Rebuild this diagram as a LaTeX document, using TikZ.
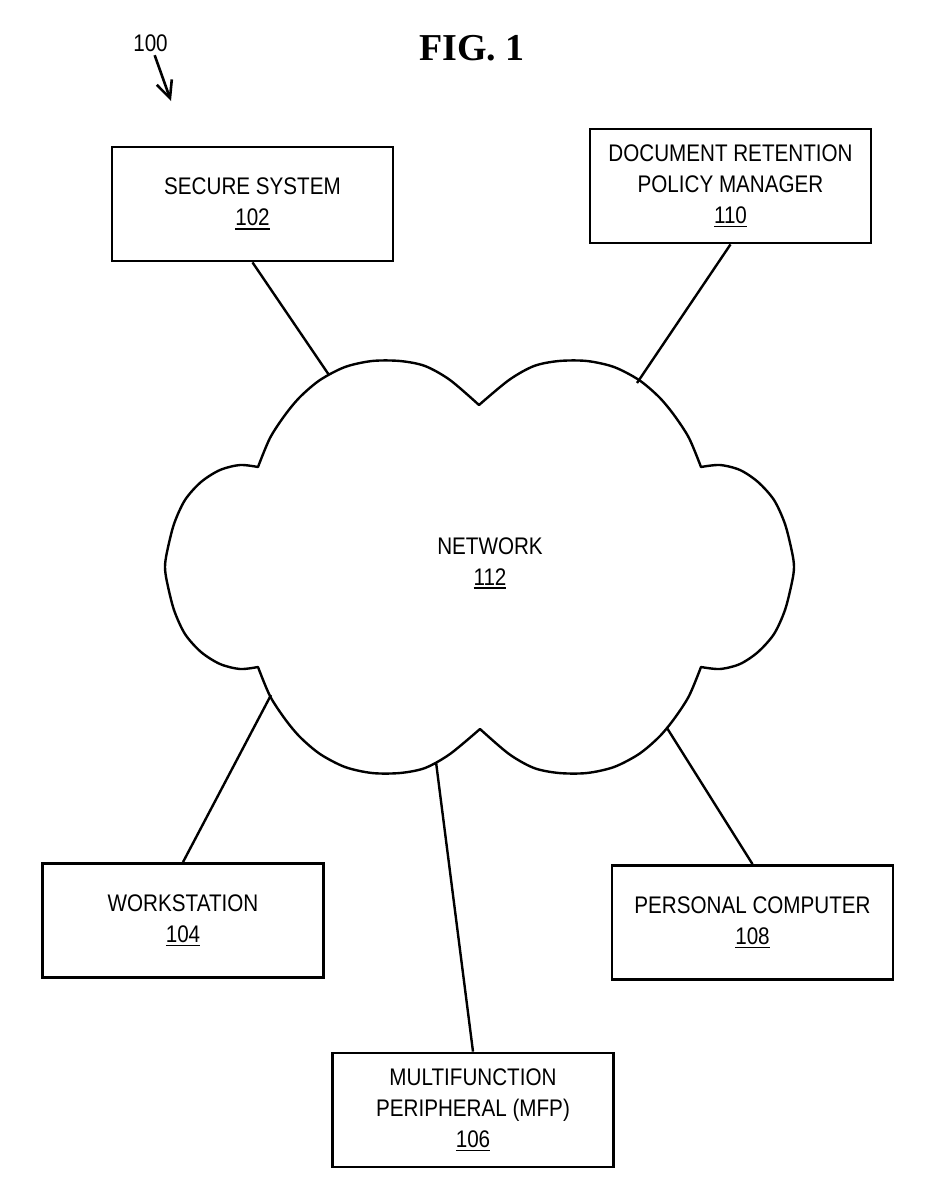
\documentclass[tikz,border=0pt]{standalone}
\usepackage{fontspec}
\setmainfont{Liberation Sans}[FakeStretch=0.86]
\newfontfamily\figfont{Liberation Serif}
\usetikzlibrary{arrows.meta,positioning}
\newcommand{\boxfont}{\fontsize{24}{31}\selectfont}
\newcommand{\refnum}[1]{\leavevmode\vtop{\hbox{#1}\kern2pt\hrule height 1.6pt}}

\begin{document}
\begin{tikzpicture}[x=1pt, y=-1pt,
  box/.style={draw, line width=2.8pt, minimum width=281pt, minimum height=114pt, align=center, font=\boxfont},
  link/.style={line width=2.4pt},
  cloudline/.style={line width=2.4pt, line join=round},
  ptr/.style={-{Straight Barb[length=17pt,width=16pt]}, line width=2.6pt}
]
\useasboundingbox (0,0) rectangle (928,1200);

% title and figure reference
\node[font=\figfont\bfseries\fontsize{38}{40}\selectfont] (fig) at (472,48.5) {FIG. 1};
\node[font=\boxfont, inner sep=3pt] (lbl100) at (150.5,43.5) {100};
\coordinate (tip100) at (171,101);
\draw[ptr] (lbl100) -- (tip100);

% network cloud
\draw[cloudline]
  plot[smooth] coordinates {(258,467) (270,438) (285,415) (300,397) (320,380) (345,367) (372,361) (400,361) (425,366) (450,380) (479,405)}
  -- plot[smooth] coordinates {(479,405) (509,380) (534,366) (559,361) (587,361) (614,367) (639,380) (659,397) (674,415) (689,438) (701,467)}
  -- plot[smooth] coordinates {(701,467) (720,465) (740,470) (758,482) (774,500) (785,524) (792,552) (794,567) (792,582) (785,610) (774,634) (758,652) (740,664) (720,669) (701,667)}
  -- plot[smooth] coordinates {(701,667) (689,696) (674,719) (659,737) (639,754) (614,767) (587,773) (559,773) (534,768) (509,754) (480,729)}
  -- plot[smooth] coordinates {(480,729) (450,754) (425,768) (400,773) (372,773) (345,767) (320,754) (300,737) (285,719) (270,696) (258,667)}
  -- plot[smooth] coordinates {(258,667) (240,669) (220,664) (201,652) (185,634) (174,610) (167,582) (165,567) (167,552) (174,524) (185,500) (201,482) (220,470) (240,465) (258,467)}
  -- cycle;
\node[font=\boxfont, align=center] (net) at (490,563) {NETWORK\\\refnum{112}};
\coordinate (netsec) at (329,375);
\coordinate (netdrpm) at (637,383);
\coordinate (netws) at (271,695);
\coordinate (netmfp) at (436,762);
\coordinate (netpc) at (667,728);

% devices
\node[box] (secure) at (252.5,204) {SECURE SYSTEM\\\refnum{102}};
\node[box] (drpm) at (730.5,186) {DOCUMENT RETENTION\\POLICY MANAGER\\\refnum{110}};
\node[box] (ws) at (183,920.5) {WORKSTATION\\\refnum{104}};
\node[box] (pc) at (752.5,922.5) {PERSONAL COMPUTER\\\refnum{108}};
\node[box] (mfp) at (473,1110) {MULTIFUNCTION\\PERIPHERAL (MFP)\\\refnum{106}};

\draw[link] (secure.south) -- (netsec);
\draw[link] (drpm.south) -- (netdrpm);
\draw[link] (ws.north) -- (netws);
\draw[link] (mfp.north) -- (netmfp);
\draw[link] (pc.north) -- (netpc);
\end{tikzpicture}
\end{document}
